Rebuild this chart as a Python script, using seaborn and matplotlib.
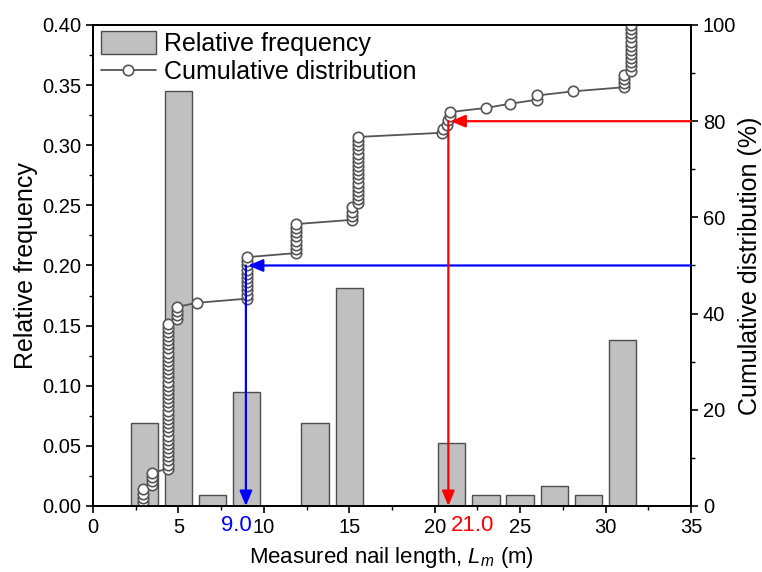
import numpy as np
import pandas as pd
import matplotlib
matplotlib.use('Agg')
import matplotlib.pyplot as plt
import matplotlib.transforms as mtransforms
from matplotlib.patches import Patch
from matplotlib.lines import Line2D
from matplotlib.ticker import MultipleLocator, FormatStrFormatter
import seaborn as sns

# ---- data ----
bin_centers = [3, 5, 7, 9, 13, 15, 21, 23, 25, 27, 29, 31]
rel_freq = [0.069, 0.345, 0.009, 0.095, 0.069, 0.181, 0.052, 0.009, 0.009, 0.017, 0.009, 0.138]

# measured nail lengths (m) and number of nails with that length (sorted)
nail_lengths = [2.9, 3.45, 4.4, 4.9, 6.1, 9.0, 11.9, 15.15, 15.5, 20.4, 20.5, 20.7,
                20.8, 20.9, 23.0, 24.4, 26.0, 28.1, 31.1, 31.5]
nail_counts = [4, 4, 36, 4, 1, 11, 8, 4, 17, 1, 1, 1, 1, 2, 1, 1, 2, 1, 4, 12]

# percentile markers: (x of vertical line, cumulative %, colour, label, label x)
marker_x = [8.95, 20.8]
marker_pct = [50, 80]
marker_colors = ['#0000ff', '#ff0000']
marker_labels = ['9.0', '21.0']
marker_label_x = [8.4, 22.2]

# ---- styling ----
sns.set_style('ticks')
plt.rcParams['font.family'] = ['Liberation Sans', 'DejaVu Sans']
plt.rcParams['mathtext.fontset'] = 'custom'
plt.rcParams['mathtext.rm'] = 'Liberation Sans'
plt.rcParams['mathtext.it'] = 'Liberation Sans:italic'
plt.rcParams['text.color'] = 'black'
plt.rcParams['axes.labelcolor'] = 'black'
plt.rcParams['xtick.color'] = 'black'
plt.rcParams['ytick.color'] = 'black'
plt.rcParams['xtick.labelcolor'] = 'black'
plt.rcParams['ytick.labelcolor'] = 'black'

fig = plt.figure(figsize=(7.62, 5.72), dpi=100)
ax = fig.add_axes([0.122, 0.1154, 0.7848, 0.8409])

bar_df = pd.DataFrame({'x': bin_centers, 'freq': rel_freq})
sns.barplot(data=bar_df, x='x', y='freq', native_scale=True, width=0.8,
            color='#c0c0c0', saturation=1, edgecolor='#4d4d4d', linewidth=1.0, ax=ax)

lengths = np.repeat(nail_lengths, nail_counts)
cum = np.arange(1, len(lengths) + 1) / len(lengths) * 100
cum_df = pd.DataFrame({'len': lengths, 'cum': cum})

ax2 = ax.twinx()
sns.lineplot(data=cum_df, x='len', y='cum', estimator=None, sort=False, ax=ax2,
             color='#555555', linewidth=1.3, marker='o', markersize=7.5,
             markerfacecolor='white', markeredgecolor='#555555', markeredgewidth=1.2)

ax.set_xlim(0, 35)
ax.set_ylim(0, 0.40)
ax2.set_ylim(0, 100)

ax.xaxis.set_major_locator(MultipleLocator(5))
ax.xaxis.set_minor_locator(MultipleLocator(2.5))
ax.yaxis.set_major_locator(MultipleLocator(0.05))
ax.yaxis.set_minor_locator(MultipleLocator(0.025))
ax.yaxis.set_major_formatter(FormatStrFormatter('%.2f'))
ax2.yaxis.set_major_locator(MultipleLocator(20))
ax2.yaxis.set_minor_locator(MultipleLocator(10))

for a in (ax, ax2):
    a.tick_params(which='major', direction='out', length=5, width=1.2, labelsize=14.5,
                  color='black', labelcolor='black')
    a.tick_params(which='minor', direction='out', length=3, width=1.0, color='black')
    for s in a.spines.values():
        s.set_linewidth(1.3)
        s.set_color('black')
ax.tick_params(axis='both', which='both', top=False, right=False)
ax2.tick_params(axis='y', which='both', left=False, right=True)

ax.set_xlabel('Measured nail length, $L_m$ (m)', fontsize=16, labelpad=6)
ax.set_ylabel('Relative frequency', fontsize=18, labelpad=3)
ax2.set_ylabel('Cumulative distribution (%)', fontsize=18, labelpad=1)

# arrows
for mx, mp, mc in zip(marker_x, marker_pct, marker_colors):
    style = '-|>,head_length=0.6,head_width=0.25'
    ax2.annotate('', xy=(mx + 0.12, mp), xytext=(35, mp),
                 arrowprops=dict(arrowstyle=style, color=mc, lw=1.6,
                                 shrinkA=0, shrinkB=0, mutation_scale=15))
    ax2.annotate('', xy=(mx, 0), xytext=(mx, mp),
                 arrowprops=dict(arrowstyle=style, color=mc, lw=1.6,
                                 shrinkA=0, shrinkB=0, mutation_scale=15))

trans = mtransforms.blended_transform_factory(ax.transData, ax.transAxes)
for lx, lab, mc in zip(marker_label_x, marker_labels, marker_colors):
    ax.annotate(lab, xy=(lx, 0), xycoords=trans, xytext=(0, -6.5),
                textcoords='offset points', ha='center', va='top',
                color=mc, fontsize=16)

handles = [Patch(facecolor='#c0c0c0', edgecolor='#4d4d4d', linewidth=1.0),
           Line2D([], [], color='#555555', linewidth=1.3, marker='o', markersize=7.5,
                  markerfacecolor='white', markeredgecolor='#555555', markeredgewidth=1.2)]
ax2.legend(handles, ['Relative frequency', 'Cumulative distribution'],
           loc='upper left', bbox_to_anchor=(-0.004, 1.008), frameon=False, fontsize=18,
           handlelength=2.2, handleheight=1.0, borderaxespad=0.2,
           handletextpad=0.35, labelspacing=0.15, borderpad=0.2)

fig.savefig('out.png', dpi=100)
